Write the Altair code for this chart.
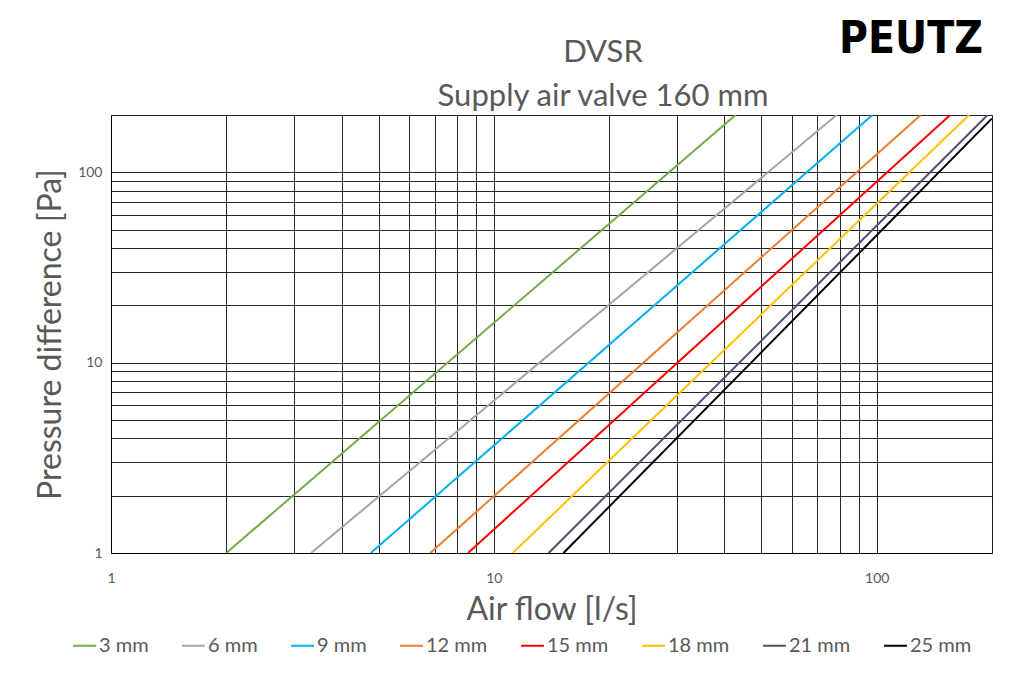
import altair as alt
import pandas as pd

series = ["3 mm", "6 mm", "9 mm", "12 mm", "15 mm", "18 mm", "21 mm", "25 mm"]
colors = ["#70AD47", "#A5A5A5", "#00B0F0", "#ED7D31", "#FF0000", "#FFC000", "#44546A", "#000000"]
flow_start = [2.0, 3.33, 4.77, 6.82, 8.56, 11.2, 13.9, 15.2]
dp_start = [1, 1, 1, 1, 1, 1, 1, 1]
flow_end = [42.8, 78.6, 97.4, 130.3, 155.5, 174.2, 194.7, 200]
dp_end = [200, 200, 200, 200, 200, 200, 200, 192]

grid_values = [1, 2, 3, 4, 5, 6, 7, 8, 9, 10, 20, 30, 40, 50, 60, 70, 80, 90, 100, 200]

title_lines = ["DVSR", "Supply air valve 160 mm"]
logo_text = ["PEUTZ"]

rows = []
for s, f0, p0, f1, p1 in zip(series, flow_start, dp_start, flow_end, dp_end):
    rows.append({"series": s, "flow": f0, "dp": p0, "o": 0})
    rows.append({"series": s, "flow": f1, "dp": p1, "o": 1})
df = pd.DataFrame(rows)

FONT = "Lato"
GREY = "#595959"

lines = alt.Chart(df).mark_line(strokeWidth=2, clip=True).encode(
    x=alt.X("flow:Q", scale=alt.Scale(type="log", domain=[1, 200], nice=False),
            axis=alt.Axis(values=grid_values, format="d",
                          labelExpr="indexof([1,10,100], datum.value) >= 0 ? datum.label : ''",
                          title="Air flow [l/s]", titleFontSize=32, titleColor=GREY,
                          titleFont=FONT, titleFontWeight="normal",
                          titleY=56, titleBaseline="middle",
                          labelFontSize=14, labelColor=GREY, labelFont=FONT,
                          labelPadding=18, ticks=False, domainColor="black",
                          gridColor="black", gridOpacity=0.85, gridWidth=1,
                          labelOverlap=False, labelFlush=False)),
    y=alt.Y("dp:Q", scale=alt.Scale(type="log", domain=[1, 200], nice=False),
            axis=alt.Axis(values=grid_values, format="d",
                          labelExpr="indexof([1,10,100], datum.value) >= 0 ? datum.label : ''",
                          title="Pressure difference [Pa]", titleFontSize=32, titleColor=GREY,
                          titleFont=FONT, titleFontWeight="normal",
                          titleX=-61, titleBaseline="middle",
                          labelFontSize=14, labelColor=GREY, labelFont=FONT,
                          labelPadding=9, ticks=False, domainColor="black",
                          gridColor="black", gridOpacity=0.85, gridWidth=1,
                          labelOverlap=False, labelFlush=False)),
    color=alt.Color("series:N", scale=alt.Scale(domain=series, range=colors),
                    legend=alt.Legend(title=None, orient="none", direction="horizontal",
                                      columns=8, legendX=-39, legendY=518,
                                      symbolType="stroke", symbolSize=520,
                                      symbolStrokeWidth=2, labelFontSize=20,
                                      labelFont=FONT, labelColor=GREY,
                                      columnPadding=29, labelOffset=2)),
    order="o:Q",
)

title1 = alt.Chart(pd.DataFrame({"t": [title_lines[0]]})).mark_text(
    font=FONT, fontSize=31, color=GREY, align="center", baseline="alphabetic"
).encode(x=alt.value(492), y=alt.value(-53), text="t:N")

title2 = alt.Chart(pd.DataFrame({"t": [title_lines[1]]})).mark_text(
    font=FONT, fontSize=31, color=GREY, align="center", baseline="alphabetic"
).encode(x=alt.value(492), y=alt.value(-9), text="t:N")

logo = alt.Chart(pd.DataFrame({"t": logo_text})).mark_text(
    font="DejaVu Sans Condensed", fontWeight="bold", fontSize=44, color="black",
    align="center", baseline="alphabetic"
).encode(x=alt.value(800), y=alt.value(-62), text="t:N")

chart = alt.layer(lines, title1, title2, logo).properties(
    width=881, height=438,
    autosize="none",
    padding={"left": 103, "top": 107, "right": 20, "bottom": 110},
).configure_view(stroke="black", strokeWidth=1.5).configure(background="white")

chart.save("out.html", embed_options={"renderer": "svg", "actions": False})
